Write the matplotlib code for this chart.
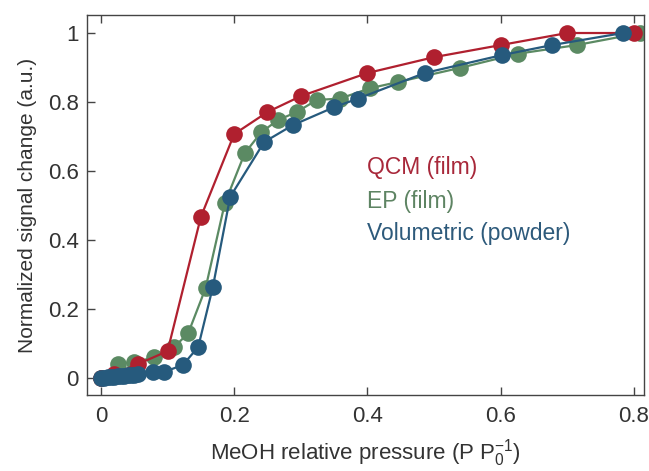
import matplotlib
matplotlib.use("Agg")
import matplotlib.pyplot as plt

plt.rcParams['font.family'] = ['Liberation Sans', 'DejaVu Sans']
plt.rcParams['mathtext.fontset'] = 'custom'
plt.rcParams['mathtext.rm'] = 'Liberation Sans'
plt.rcParams['mathtext.it'] = 'Liberation Sans:italic'

# QCM (film)
qcm_x = [0.0, 0.02, 0.055, 0.10, 0.15, 0.20, 0.25, 0.30, 0.40, 0.50, 0.60, 0.70, 0.80]
qcm_y = [0.0, 0.012, 0.04, 0.078, 0.467, 0.707, 0.771, 0.817, 0.884, 0.93, 0.965, 1.0, 1.0]

# EP (film)
ep_x = [0.0, 0.025, 0.05, 0.08, 0.11, 0.131, 0.157, 0.186, 0.216, 0.241, 0.266, 0.294,
        0.324, 0.359, 0.404, 0.446, 0.539, 0.626, 0.714, 0.81]
ep_y = [0.0, 0.042, 0.046, 0.06, 0.09, 0.13, 0.26, 0.507, 0.652, 0.713, 0.748, 0.771,
        0.806, 0.81, 0.84, 0.858, 0.899, 0.94, 0.965, 1.0]

# Volumetric (powder)
vol_x = [0.0, 0.005, 0.01, 0.015, 0.02, 0.025, 0.03, 0.035, 0.04, 0.045, 0.05, 0.055,
         0.078, 0.095, 0.123, 0.146, 0.168, 0.194, 0.245, 0.288, 0.35, 0.386, 0.486,
         0.602, 0.677, 0.784]
vol_y = [0.0, 0.0, 0.002, 0.003, 0.004, 0.005, 0.006, 0.007, 0.008, 0.009, 0.01, 0.012,
         0.018, 0.018, 0.038, 0.09, 0.264, 0.525, 0.684, 0.733, 0.785, 0.81, 0.884,
         0.936, 0.965, 1.0]

red = '#B0202F'
green = '#5B8A63'
blue = '#265A7D'

fig = plt.figure(figsize=(6.49, 4.71), dpi=100)
ax = fig.add_axes([0.134, 0.1614, 0.858, 0.8066])

ms = 12
lw = 1.6
ax.plot(ep_x, ep_y, '-o', color=green, ms=ms, lw=lw, mew=0, zorder=2)
ax.plot(qcm_x, qcm_y, '-o', color=red, ms=ms, lw=lw, mew=0, zorder=3)
ax.plot(vol_x, vol_y, '-o', color=blue, ms=ms, lw=lw, mew=0, zorder=4)

ax.set_xlim(-0.021, 0.815)
ax.set_ylim(-0.049, 1.052)
ax.set_xticks([0, 0.2, 0.4, 0.6, 0.8])
ax.set_xticklabels(['0', '0.2', '0.4', '0.6', '0.8'])
ax.set_yticks([0, 0.2, 0.4, 0.6, 0.8, 1.0])
ax.set_yticklabels(['0', '0.2', '0.4', '0.6', '0.8', '1'])

for s in ax.spines.values():
    s.set_color('#444444')
    s.set_linewidth(1.0)
ax.tick_params(axis='x', direction='in', length=6, width=1, color='#444444',
               top=True, labelsize=16, pad=8, labelcolor='#333333')
ax.tick_params(axis='y', direction='in', length=6, width=1, color='#444444',
               right=False, labelsize=16, pad=6, labelcolor='#333333')

ax.set_xlabel(r'MeOH relative pressure (P $\mathregular{P_0^{-1}}$)', fontsize=16,
              color='#333333', labelpad=7)
ax.set_ylabel('Normalized signal change (a.u.)', fontsize=15, color='#333333', labelpad=8)

ax.text(0.4, 0.610, 'QCM (film)', color='#A8283A', fontsize=16.5, va='center', ha='left')
ax.text(0.4, 0.512, 'EP (film)', color='#5E8463', fontsize=16.5, va='center', ha='left')
ax.text(0.4, 0.420, 'Volumetric (powder)', color='#2D5A7B', fontsize=16.5, va='center', ha='left')

fig.savefig('out.png', dpi=100)
